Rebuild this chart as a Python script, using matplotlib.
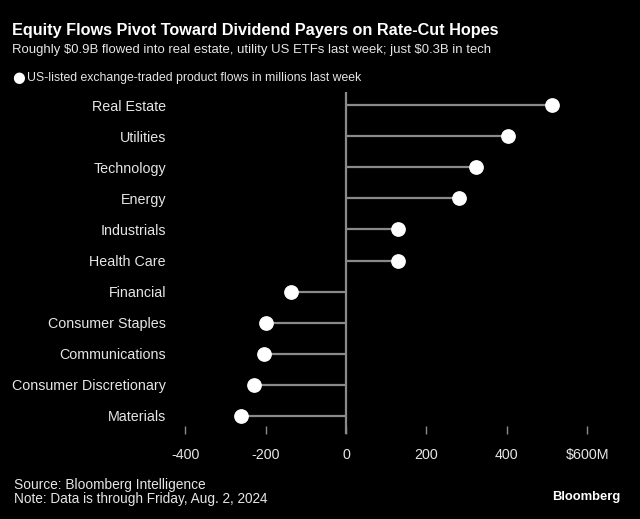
import matplotlib.pyplot as plt
import numpy as np

sectors = ["Real Estate", "Utilities", "Technology", "Energy", "Industrials",
           "Health Care", "Financial", "Consumer Staples", "Communications",
           "Consumer Discretionary", "Materials"]
flows = [512, 404, 324, 281, 130, 129, -138, -199, -204, -229, -261]
xticks = [-400, -200, 0, 200, 400, 600]
xtick_labels = ["-400", "-200", "0", "200", "400", "\\$600M"]

plt.rcParams['font.family'] = ['Liberation Sans', 'DejaVu Sans']

bg = "black"
txt = "#e6e6e6"
line_col = "#8a8a8a"

fig = plt.figure(figsize=(6.4, 5.19), dpi=100, facecolor=bg)
ax = fig.add_axes([180 / 640, 1 - 434 / 519, 430 / 640, 342 / 519], facecolor=bg)

y = np.arange(len(sectors))
ax.hlines(y, 0, flows, color=line_col, lw=1.6, zorder=1)
ax.axvline(0, color=line_col, lw=1.6, zorder=1)
ax.plot(flows, y, "o", color="white", markersize=9.6, zorder=3)

ax.set_xlim(-413, 657)
ax.set_ylim(10.58, -0.42)
ax.set_yticks(y)
ax.set_yticklabels(sectors)
ax.set_xticks(xticks)
ax.set_xticklabels(xtick_labels)
ax.tick_params(axis="y", length=0, pad=10, colors=txt, labelsize=10.3)
ax.tick_params(axis="x", length=6, width=1, direction="in", pad=10,
               color=line_col, labelcolor=txt, labelsize=10.3)
for s in ax.spines.values():
    s.set_visible(False)

fig.text(12 / 640, 1 - 30 / 519, "Equity Flows Pivot Toward Dividend Payers on Rate-Cut Hopes",
         color="white", fontsize=11.7, fontweight="bold", va="center", ha="left")
fig.text(12 / 640, 1 - 50 / 519,
         "Roughly \\$0.9B flowed into real estate, utility US ETFs last week; just \\$0.3B in tech",
         color=txt, fontsize=9.45, va="center", ha="left")
fig.text(12 / 640, 1 - 77.5 / 519, "\u25CF", color="white", fontsize=10.5, va="center", ha="left",
         family="DejaVu Sans")
fig.text(27 / 640, 1 - 78 / 519, "US-listed exchange-traded product flows in millions last week",
         color=txt, fontsize=8.8, va="center", ha="left")
fig.text(14 / 640, 1 - 485 / 519, "Source: Bloomberg Intelligence",
         color=txt, fontsize=9.9, va="center", ha="left")
fig.text(14 / 640, 1 - 499 / 519, "Note: Data is through Friday, Aug. 2, 2024",
         color=txt, fontsize=9.8, va="center", ha="left")
fig.text(620 / 640, 1 - 497 / 519, "Bloomberg", color="white", fontsize=9.4,
         fontweight="bold", va="center", ha="right")

fig.savefig("out.png", dpi=100, facecolor=bg)
